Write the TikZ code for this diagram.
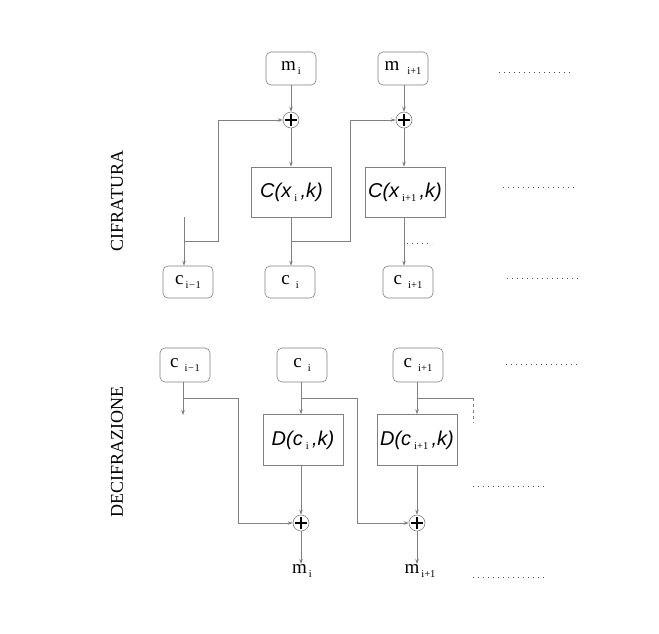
\documentclass[tikz,border=0pt]{standalone}
\usepackage{fontspec}
\setmainfont{Liberation Serif}
\setsansfont{Liberation Sans}
\usetikzlibrary{arrows.meta}
\definecolor{linegray}{gray}{0.5}
\definecolor{dotgray}{gray}{0.3}
% small lowered index, set apart from its base letter by an optional gap
\newcommand\idx[2][3pt]{\hspace{#1}\raisebox{-4pt}{\fontsize{10.5}{10.5}\selectfont\rmfamily\upshape #2}}
\newcommand\mns{\hspace{0.5pt}{\char"2212\relax}\hspace{0.5pt}}
\begin{document}
\begin{tikzpicture}[x=1pt,y=-1pt,
  wire/.style={draw=linegray, line width=0.6pt},
  arr/.style={wire, -{Stealth[length=5pt,width=3.5pt]}},
  rbox/.style={draw=linegray, line width=0.6pt, rounded corners=5pt,
    minimum width=50pt, minimum height=33pt, inner sep=0pt,
    font=\fontsize{19}{19}\selectfont},
  fbox/.style={draw=linegray, line width=0.6pt, minimum width=80pt,
    minimum height=50pt, inner sep=0pt,
    font=\fontsize{20}{20}\selectfont\sffamily\itshape},
  xorn/.style={circle, draw=linegray, line width=0.6pt, minimum size=16pt, inner sep=0pt},
  plus/.style={draw=black, line width=1.3pt},
  lbl/.style={inner sep=0pt, font=\fontsize{19}{19}\selectfont},
  side/.style={rotate=90, inner sep=0pt, font=\fontsize{18}{18}\selectfont},
  dots/.style={draw=dotgray, line width=0.9pt, dash pattern=on 0.9pt off 4.1pt},
]
\useasboundingbox (0,0) rectangle (659,633);

% ---------- encryption ----------
\node[side] (cif) at (117,201) {CIFRATURA};

\node[rbox] (m1) at (291,68.5) {m\idx[2pt]{i}};
\node[rbox] (m2) at (403,68.5) {m\idx[8pt]{i+1}};
\node[xorn] (x1) at (291,120) {};
\node[xorn] (x2) at (404,120) {};
\node[fbox] (C1) at (291.5,192) {C(x\idx[3pt]{i}\,,k)};
\node[fbox] (C2) at (405,192) {C(x\idx[3pt]{i+1}\,,k)};
\node[rbox, minimum height=32pt] (c0) at (188,282) {c\idx[2pt]{i\mns1}};
\node[rbox, minimum height=32pt] (c1) at (290,282) {c\idx[6pt]{i}};
\node[rbox, minimum height=32pt] (c2) at (408,282) {c\idx[6pt]{i+1}};

\draw[arr] (m1.south -| x1) -- (x1.north);
\draw[arr] (m2.south -| x2) -- (x2.north);
\draw[arr] (x1.south) -- (x1.south |- C1.north);
\draw[arr] (x2.south) -- (x2.south |- C2.north);
\draw[arr] (C1.south -| x1) -- (x1 |- c1.north);
\draw[arr] (C2.south -| x2) -- (x2 |- c2.north);

\coordinate (lin) at (184,217);
\coordinate (j0) at (184,241);
\coordinate (j1) at (291,241);
\draw[arr] (lin) -- (lin |- c0.north);
\draw[arr] (j0) -- (218,241) -- (218,120) -- (x1.west);
\draw[arr] (j1) -- (350,241) -- (350,120) -- (x2.west);

\coordinate (d1a) at (407,243); \coordinate (d1b) at (432,243);
\draw[dots] (d1a) -- (d1b);
\coordinate (r1a) at (499,72);  \coordinate (r1b) at (571,72);
\coordinate (r2a) at (503,187); \coordinate (r2b) at (575,187);
\coordinate (r3a) at (507,278); \coordinate (r3b) at (579,278);
\draw[dots] (r1a) -- (r1b);
\draw[dots] (r2a) -- (r2b);
\draw[dots] (r3a) -- (r3b);

% ---------- decryption ----------
\node[side] (dec) at (117,452) {DECIFRAZIONE};

\node[rbox, minimum height=34pt] (e0) at (185,365) {c\idx[6pt]{i\mns1}};
\node[rbox, minimum height=34pt] (e1) at (302,365) {c\idx[6pt]{i}};
\node[rbox, minimum height=34pt] (e2) at (418,365) {c\idx[6pt]{i+1}};
\node[fbox, minimum height=51pt] (D1) at (303,440) {D(c\idx[3pt]{i}\,,k)};
\node[fbox, minimum height=51pt] (D2) at (417,440) {D(c\idx[3pt]{i+1}\,,k)};
\node[xorn] (x3) at (301,523) {};
\node[xorn] (x4) at (417,523) {};
\node[lbl, anchor=north] (o1) at (302,564) {m\idx[2pt]{i}};
\node[lbl, anchor=north] (o2) at (420,564) {m\idx[2pt]{i+1}};

\coordinate (k0) at (183,398);
\coordinate (k1) at (301,398);
\coordinate (k2) at (417,398);
\draw[arr] (e0.south -| k0) -- (183,415);
\draw[arr] (e1.south -| k1) -- (k1 |- D1.north);
\draw[arr] (e2.south -| k2) -- (k2 |- D2.north);
\draw[arr] (k0) -- (238,398) -- (238,523) -- (x3.west);
\draw[arr] (k1) -- (357,398) -- (357,523) -- (x4.west);
\coordinate (k3) at (473,398);
\coordinate (k4) at (473,423);
\draw[wire] (k2) -- (k3);
\draw[wire, dashed] (k3) -- (k4);
\draw[arr] (D1.south -| x3) -- (x3.north);
\draw[arr] (D2.south -| x4) -- (x4.north);
\draw[arr] (x3.south) -- (x3.south |- o1.north);
\draw[arr] (x4.south) -- (x4.south |- o2.north);

\coordinate (r4a) at (506,364); \coordinate (r4b) at (578,364);
\coordinate (r5a) at (473,486); \coordinate (r5b) at (545,486);
\coordinate (r6a) at (473,577); \coordinate (r6b) at (545,577);
\draw[dots] (r4a) -- (r4b);
\draw[dots] (r5a) -- (r5b);
\draw[dots] (r6a) -- (r6b);

% plus marks inside the XOR circles
\foreach \n in {x1,x2,x3,x4} {
  \draw[plus] ([xshift=-6pt]\n.center) -- ([xshift=6pt]\n.center);
  \draw[plus] ([yshift=-6pt]\n.center) -- ([yshift=6pt]\n.center);
}
\end{tikzpicture}
\end{document}
